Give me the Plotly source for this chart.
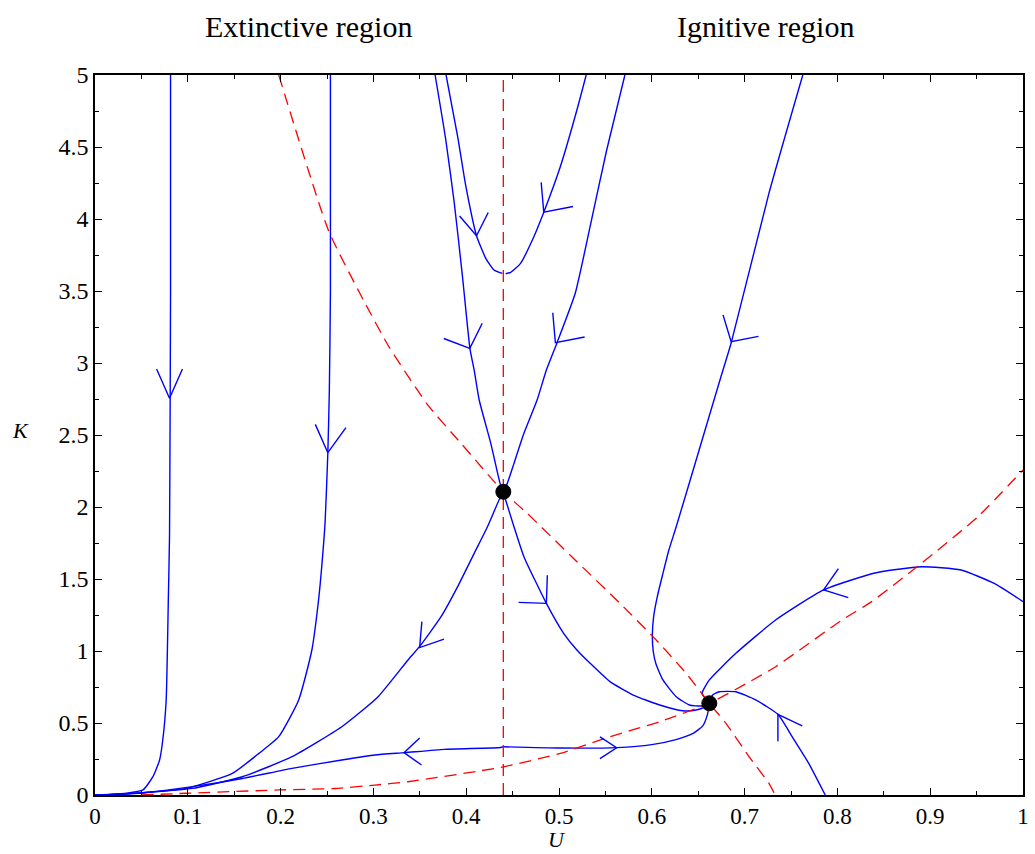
import math
import plotly.graph_objects as go

# ---------------- data ----------------
# Blue trajectories (U, K)
T1_U = [0.0814, 0.0814, 0.0810, 0.0803, 0.0790, 0.0767, 0.0730, 0.0696, 0.0624, 0.0517, 0.0340, 0.0150, 0.0]
T1_K = [5.0, 3.5, 2.75, 1.80, 1.35, 0.66, 0.38, 0.243, 0.127, 0.035, 0.012, 0.004, 0.0]

T2_U = [0.2537, 0.2537, 0.2525, 0.2509, 0.2480, 0.2445, 0.2409, 0.2337, 0.2195, 0.1980, 0.1767, 0.1480, 0.0980, 0.0520, 0.0200, 0.0]
T2_K = [5.0, 3.5, 2.8, 2.377, 1.90, 1.60, 1.354, 1.007, 0.66, 0.405, 0.289, 0.150, 0.046, 0.016, 0.004, 0.0]

# saddle -> origin (lower-left branch)
T3_U = [0.4400, 0.4354, 0.4229, 0.4086, 0.3908, 0.3729, 0.3497, 0.3373, 0.3051, 0.2659, 0.2123, 0.1588, 0.1053, 0.0520, 0.0200, 0.0]
T3_K = [2.106, 2.049, 1.863, 1.678, 1.447, 1.238, 1.030, 0.9375, 0.683, 0.474, 0.266, 0.127, 0.046, 0.016, 0.004, 0.0]

# top -> saddle (left stable branch)
T4_U = [0.3665, 0.3780, 0.3872, 0.3960, 0.4040, 0.4086, 0.4140, 0.4265, 0.4365, 0.4400]
T4_K = [5.0, 4.55, 4.109, 3.60, 3.102, 2.95, 2.743, 2.442, 2.164, 2.106]

# top -> saddle (right stable branch)
T5_U = [0.5710, 0.5514, 0.5335, 0.5175, 0.4979, 0.4864, 0.4764, 0.4622, 0.4515, 0.4443, 0.4400]
T5_K = [5.0, 4.479, 3.947, 3.484, 3.141, 2.951, 2.743, 2.512, 2.303, 2.164, 2.106]

# top -> dashed line (left of U=0.44)
T6_U = [0.3783, 0.3908, 0.3997, 0.4111, 0.4211, 0.4300, 0.4390]
T6_K = [5.0, 4.572, 4.224, 3.884, 3.727, 3.646, 3.622]

# top -> dashed line (right of U=0.44)
T7_U = [0.5293, 0.5193, 0.5014, 0.4836, 0.4729, 0.4586, 0.4480, 0.4425]
T7_K = [5.0, 4.757, 4.363, 4.047, 3.877, 3.692, 3.630, 3.620]

# saddle -> node (unstable branch)
T8_U = [0.4400, 0.4425, 0.4515, 0.4622, 0.4864, 0.5050, 0.5193, 0.5335, 0.5550, 0.5800, 0.6085, 0.6334, 0.6478, 0.6585, 0.6620]
T8_K = [2.106, 2.049, 1.863, 1.655, 1.331, 1.123, 1.007, 0.915, 0.787, 0.694, 0.625, 0.585, 0.590, 0.613, 0.637]

# top right -> node (hooks round the left)
T9_U = [0.7627, 0.7262, 0.6859, 0.6745, 0.6478, 0.6263, 0.6184, 0.6120, 0.6060, 0.6020, 0.6006, 0.6015, 0.6045, 0.6120, 0.6263, 0.6406, 0.6531, 0.6620]
T9_K = [5.0, 4.178, 3.148, 2.905, 2.326, 1.863, 1.701, 1.539, 1.380, 1.240, 1.110, 1.000, 0.910, 0.799, 0.683, 0.625, 0.618, 0.637]

# right edge -> node
T10_U = [1.0, 0.9690, 0.9333, 0.8904, 0.8405, 0.7851, 0.7334, 0.6906, 0.6620, 0.6542, 0.6620]
T10_K = [1.343, 1.469, 1.5625, 1.585, 1.542, 1.424, 1.215, 0.984, 0.799, 0.706, 0.637]

# bottom -> node
T11_U = [0.7869, 0.7691, 0.7512, 0.7359, 0.7120, 0.6906, 0.6727, 0.6655, 0.6620]
T11_K = [0.0, 0.22, 0.405, 0.560, 0.660, 0.717, 0.717, 0.694, 0.637]

# (0.44, 0.33) -> origin
T12_U = [0.4400, 0.4372, 0.3765, 0.3337, 0.3016, 0.2659, 0.2123, 0.1588, 0.1050, 0.0520, 0.0200, 0.0]
T12_K = [0.335, 0.330, 0.317, 0.294, 0.278, 0.243, 0.185, 0.115, 0.058, 0.016, 0.004, 0.0]

# (0.44, 0.33) -> node
T13_U = [0.4400, 0.5014, 0.5621, 0.6000, 0.6260, 0.6450, 0.6549, 0.6600, 0.6620]
T13_K = [0.335, 0.326, 0.329, 0.350, 0.385, 0.430, 0.480, 0.560, 0.637]

TRAJ_U = [T1_U, T2_U, T3_U, T4_U, T5_U, T6_U, T7_U, T8_U, T9_U, T10_U, T11_U, T12_U, T13_U]
TRAJ_K = [T1_K, T2_K, T3_K, T4_K, T5_K, T6_K, T7_K, T8_K, T9_K, T10_K, T11_K, T12_K, T13_K]

# Red dashed nullclines
N1_U = [0.198, 0.2516, 0.289, 0.317, 0.3587, 0.3944, 0.4400, 0.4657, 0.5193, 0.5657, 0.6013, 0.6370, 0.6620, 0.6799, 0.7048, 0.7262, 0.7330]
N1_K = [5.0, 3.92, 3.44, 3.11, 2.708, 2.442, 2.106, 1.956, 1.620, 1.331, 1.100, 0.845, 0.637, 0.498, 0.266, 0.081, 0.0]

N2_U = [0.05, 0.098, 0.198, 0.2587, 0.3016, 0.3373, 0.4372, 0.5014, 0.5550, 0.6085, 0.6620, 0.7334, 0.8048, 0.8369, 0.8904, 0.9510, 1.0]
N2_K = [0.0, 0.012, 0.035, 0.045, 0.069, 0.092, 0.192, 0.289, 0.405, 0.509, 0.637, 0.891, 1.215, 1.343, 1.608, 1.930, 2.257]

N3_U = [0.44, 0.44]
N3_K = [0.0, 5.0]

# Equilibria
EQ_U = [0.44, 0.662]
EQ_K = [2.106, 0.637]

# Arrow tips (U, K) and pointing direction (screen degrees, 0 = right, 90 = down)
ARROW_U = [0.0803, 0.2509, 0.4111, 0.4836, 0.4039, 0.4961, 0.3498, 0.4864, 0.3330, 0.5621, 0.7359, 0.7851, 0.6855]
ARROW_K = [2.755, 2.377, 3.884, 4.047, 3.102, 3.141, 1.024, 1.331, 0.294, 0.328, 0.560, 1.424, 3.148]
ARROW_HEADING = [90, 96, 83, 127, 68.5, 127, 128, 47, 176, 0, -122.5, 161, 121]

# arrow glyph style (half-angle of the chevron in degrees, arm length in px)
ARROW_SPREAD = [24, 30, 34, 42, 48, 42, 33, 45, 39, 33, 32.5, 36, 48]
ARROW_LEN = [32, 31, 26, 30, 28, 30, 26, 28, 21.5, 20, 27, 26, 28]

X_TICKS = [0, 0.1, 0.2, 0.3, 0.4, 0.5, 0.6, 0.7, 0.8, 0.9, 1]
X_TICKTEXT = ["0", "0.1", "0.2", "0.3", "0.4", "0.5", "0.6", "0.7", "0.8", "0.9", "1"]
Y_TICKS = [0, 0.5, 1, 1.5, 2, 2.5, 3, 3.5, 4, 4.5, 5]
Y_TICKTEXT = ["0", "0.5", "1", "1.5", "2", "2.5", "3", "3.5", "4", "4.5", "5"]

# ---------------- layout geometry ----------------
W, H = 1035, 854
ML, MR, MT, MB = 95, 6, 75, 59
XR = [0, 1]
YR = [0, 5]
SX = (W - ML - MR) / (XR[1] - XR[0])   # px per U unit
SY = (H - MT - MB) / (YR[1] - YR[0])   # px per K unit

BLUE = "rgb(0,0,255)"
RED = "rgb(255,0,0)"
FONT = "Liberation Serif"

fig = go.Figure()

for u, k in zip(TRAJ_U, TRAJ_K):
    fig.add_trace(go.Scatter(x=u, y=k, mode="lines",
                             line=dict(color=BLUE, width=1.4, shape="spline", smoothing=0.5),
                             hoverinfo="skip", showlegend=False))

for u, k in [(N1_U, N1_K), (N2_U, N2_K), (N3_U, N3_K)]:
    fig.add_trace(go.Scatter(x=u, y=k, mode="lines",
                             line=dict(color=RED, width=1.3, dash="12px,7px", shape="spline", smoothing=0.5),
                             hoverinfo="skip", showlegend=False))

# chevron arrowheads, built in screen space and mapped back to data units
ax, ay = [], []
for u, k, hd, sp, ln in zip(ARROW_U, ARROW_K, ARROW_HEADING, ARROW_SPREAD, ARROW_LEN):
    back = math.radians(hd + 180)
    pts = []
    for s in (-1, 1):
        a = back + s * math.radians(sp)
        dx = ln * math.cos(a)
        dy = ln * math.sin(a)           # screen y grows downward
        pts.append((u + dx / SX, k - dy / SY))
    ax += [pts[0][0], u, pts[1][0], None]
    ay += [pts[0][1], k, pts[1][1], None]
fig.add_trace(go.Scatter(x=ax, y=ay, mode="lines", line=dict(color=BLUE, width=1.4),
                         hoverinfo="skip", showlegend=False))

fig.add_trace(go.Scatter(x=EQ_U, y=EQ_K, mode="markers",
                         marker=dict(color="black", size=15, line=dict(color="black", width=1)),
                         hoverinfo="skip", showlegend=False))

axis_common = dict(showgrid=False, zeroline=False, showline=True, linecolor="black", linewidth=1.5,
                   mirror="ticks", ticks="inside", ticklen=7, tickwidth=1.3, tickcolor="black")

fig.update_xaxes(range=XR, tickvals=X_TICKS, ticktext=X_TICKTEXT,
                 tickfont=dict(family=FONT, size=23, color="black"),
                 minor=dict(ticks="inside", ticklen=4, tickwidth=1, dtick=0.05, tickcolor="black"),
                 **axis_common)
fig.update_yaxes(range=YR, tickvals=Y_TICKS, ticktext=Y_TICKTEXT,
                 tickfont=dict(family=FONT, size=24, color="black"),
                 minor=dict(ticks="inside", ticklen=4, tickwidth=1, dtick=0.25, tickcolor="black"),
                 **axis_common)

ann_font = dict(family=FONT, size=30, color="black")
lab_font = dict(family=FONT, size=22, color="black")
fig.update_layout(
    width=W, height=H,
    margin=dict(l=ML, r=MR, t=MT, b=MB, pad=0),
    paper_bgcolor="white", plot_bgcolor="white",
    annotations=[
        dict(text="Extinctive region", x=0.230, y=1.0667, xref="x", yref="paper",
             showarrow=False, font=ann_font, xanchor="center", yanchor="middle"),
        dict(text="Ignitive region", x=0.7227, y=1.0667, xref="x", yref="paper",
             showarrow=False, font=ann_font, xanchor="center", yanchor="middle"),
        dict(text="<i>K</i>", x=-0.0803, y=2.53, xref="paper", yref="y",
             showarrow=False, font=lab_font, xanchor="center", yanchor="middle"),
        dict(text="<i>U</i>", x=0.498, y=-0.0818, xref="x", yref="paper",
             showarrow=False, font=lab_font, xanchor="center", yanchor="bottom"),
    ],
)

fig.write_html("out.html")
